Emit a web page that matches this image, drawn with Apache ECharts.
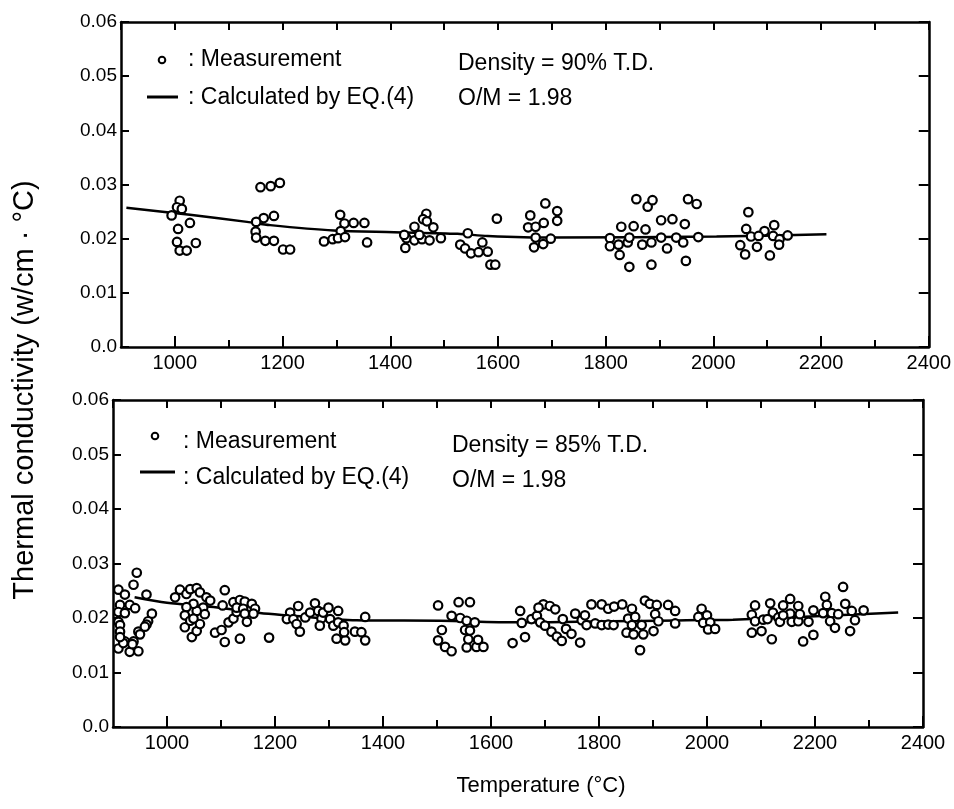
<!DOCTYPE html>
<html>
<head>
<meta charset="utf-8">
<script src="https://cdn.jsdelivr.net/npm/echarts@6/dist/echarts.min.js"></script>
<style>
html,body{margin:0;padding:0;background:#fff;}
#c{width:954px;height:809px;}
</style>
</head>
<body>
<div id="c"></div>
<script>
// ---- tick labels ----
const xTickLabels = [1000, 1200, 1400, 1600, 1800, 2000, 2200, 2400];
const xMinorTicks = [1100, 1300, 1500, 1700, 1900, 2100, 2300];
const yTickLabels = ['0.0', '0.01', '0.02', '0.03', '0.04', '0.05', '0.06'];

// ---- top panel: density 90% T.D. ----
const topMeasured = [
  [1009,0.0270],[1004,0.0258],[994,0.0243],[1013,0.0255],[1028,0.0229],[1006,0.0218],[1004,0.0194],[1009,0.0178],[1022,0.0178],[1039,0.0192],
  [1159,0.0295],[1178,0.0297],[1195,0.0303],[1165,0.0238],[1184,0.0242],[1151,0.0231],[1150,0.0213],[1151,0.0202],[1168,0.0196],[1184,0.0196],[1201,0.0180],[1214,0.0180],
  [1307,0.0244],[1315,0.0228],[1332,0.0229],[1352,0.0229],[1308,0.0214],[1277,0.0195],[1293,0.0199],[1303,0.0201],[1316,0.0203],[1357,0.0193],
  [1467,0.0246],[1461,0.0236],[1445,0.0222],[1480,0.0221],[1430,0.0201],[1445,0.0197],[1459,0.0199],[1473,0.0197],[1494,0.0201],[1428,0.0183],[1426,0.0207],[1454,0.0207],[1468,0.0232],
  [1544,0.0210],[1530,0.0189],[1539,0.0182],[1550,0.0173],[1571,0.0193],[1581,0.0176],[1598,0.0237],[1586,0.0152],[1595,0.0152],[1564,0.0175],
  [1660,0.0243],[1688,0.0265],[1710,0.0251],[1710,0.0233],[1656,0.0221],[1670,0.0222],[1685,0.0229],[1670,0.0202],[1698,0.0200],[1667,0.0184],[1684,0.0190],
  [1808,0.0201],[1808,0.0186],[1829,0.0222],[1824,0.0189],[1826,0.0170],[1844,0.0148],[1841,0.0193],[1852,0.0223],[1844,0.0202],[1857,0.0273],[1874,0.0217],[1868,0.0189],[1878,0.0259],[1887,0.0271],[1885,0.0152],[1885,0.0193],[1903,0.0234],[1903,0.0202],[1914,0.0182],[1924,0.0236],[1931,0.0202],[1944,0.0193],[1947,0.0227],[1949,0.0159],[1953,0.0273],[1969,0.0264],[1972,0.0203],
  [2065,0.0249],[2061,0.0218],[2070,0.0204],[2050,0.0188],[2059,0.0171],[2081,0.0185],[2095,0.0214],[2105,0.0169],[2113,0.0225],[2111,0.0205],[2123,0.0199],[2122,0.0189],[2138,0.0206],[2084,0.0205]
];
const topCalculated = [
  [910,0.0257],[1028,0.0244],[1134,0.0231],[1177,0.0225],[1295,0.0215],[1407,0.0212],[1525,0.0209],[1581,0.0205],[1700,0.0202],[2006,0.0204],[2210,0.0208]
];

// ---- bottom panel: density 85% T.D. ----
const bottomMeasured = [
  [910,0.0252],[922,0.0243],[913,0.0224],[931,0.0224],[941,0.0218],[910,0.0211],[922,0.0209],[910,0.0193],[913,0.0187],[913,0.0175],[922,0.0157],[938,0.0157],[944,0.0283],[938,0.0261],[962,0.0243],[972,0.0208],[965,0.0194],[962,0.0188],[947,0.0175],[959,0.0184],[950,0.0170],[910,0.0144],[919,0.0154],[931,0.0138],[947,0.0139],[936,0.0152],[913,0.0165],
  [1015,0.0238],[1024,0.0252],[1036,0.0244],[1043,0.0253],[1055,0.0255],[1061,0.0247],[1073,0.0238],[1080,0.0232],[1067,0.0219],[1070,0.0207],[1055,0.0213],[1049,0.0226],[1036,0.0220],[1033,0.0205],[1033,0.0183],[1046,0.0165],[1055,0.0176],[1061,0.0189],[1043,0.0195],[1049,0.0199],
  [1107,0.0251],[1103,0.0223],[1089,0.0173],[1101,0.0178],[1107,0.0156],[1114,0.0192],[1123,0.0199],[1129,0.0211],[1123,0.0229],[1135,0.0233],[1144,0.0230],[1129,0.0219],[1141,0.0217],[1157,0.0226],[1163,0.0217],[1160,0.0208],[1144,0.0208],[1135,0.0162],[1148,0.0193],[1189,0.0164],
  [1243,0.0222],[1228,0.0210],[1222,0.0198],[1234,0.0198],[1240,0.0189],[1246,0.0175],[1256,0.0201],[1265,0.0210],[1274,0.0227],[1280,0.0213],[1286,0.0199],[1283,0.0186],[1289,0.0210],[1299,0.0219],[1302,0.0198],[1308,0.0186],[1317,0.0213],[1317,0.0192],[1327,0.0186],[1314,0.0162],[1330,0.0159],[1328,0.0174],[1348,0.0175],[1360,0.0174],[1367,0.0202],[1367,0.0159],
  [1502,0.0223],[1509,0.0178],[1502,0.0159],[1515,0.0147],[1527,0.0139],[1540,0.0229],[1561,0.0229],[1527,0.0204],[1543,0.0200],[1555,0.0195],[1570,0.0192],[1552,0.0178],[1561,0.0177],[1555,0.0146],[1573,0.0147],[1586,0.0147],[1576,0.0160],[1558,0.0161],
  [1640,0.0154],[1654,0.0213],[1657,0.0191],[1663,0.0165],[1675,0.0198],[1685,0.0204],[1697,0.0225],[1688,0.0219],[1709,0.0222],[1719,0.0216],[1691,0.0192],[1700,0.0186],[1712,0.0175],[1722,0.0166],[1731,0.0158],[1733,0.0198],[1739,0.0180],[1749,0.0171],[1765,0.0155],[1756,0.0208],[1768,0.0196],[1777,0.0187],
  [1774,0.0205],[1786,0.0225],[1805,0.0225],[1817,0.0217],[1828,0.0221],[1843,0.0225],[1793,0.0190],[1805,0.0187],[1817,0.0188],[1827,0.0187],[1861,0.0217],[1854,0.0199],[1867,0.0202],[1861,0.0187],[1879,0.0187],[1876,0.0141],[1885,0.0232],[1894,0.0226],[1907,0.0224],[1904,0.0207],[1910,0.0194],[1901,0.0176],[1882,0.0170],[1851,0.0173],[1864,0.0170],[1928,0.0224],[1941,0.0213],[1941,0.0190],
  [1990,0.0217],[1984,0.0202],[2000,0.0205],[1993,0.0191],[2006,0.0192],[2002,0.0179],[2015,0.0180],
  [2089,0.0223],[2083,0.0206],[2089,0.0194],[2104,0.0197],[2117,0.0227],[2122,0.0210],[2112,0.0198],[2132,0.0201],[2141,0.0223],[2154,0.0235],[2169,0.0222],[2154,0.0208],[2157,0.0193],[2169,0.0194],[2135,0.0193],[2083,0.0173],[2101,0.0176],[2120,0.0161],[2178,0.0157],[2197,0.0169],[2188,0.0193],[2197,0.0214],[2219,0.0239],[2222,0.0224],[2215,0.0209],[2231,0.0209],[2228,0.0194],[2237,0.0182],[2252,0.0257],[2256,0.0226],[2268,0.0213],[2274,0.0196],[2265,0.0176],[2290,0.0214],[2243,0.0207],[2172,0.0207],[2141,0.0205]
];
const bottomCalculated = [
  [940,0.0238],[1000,0.0228],[1086,0.0220],[1172,0.0209],[1222,0.0205],[1351,0.0196],[1506,0.0195],[1648,0.0192],[1962,0.0196],[2048,0.0197],[2354,0.0210]
];

const panelNotes = [
  {density: 'Density = 90% T.D.', om: 'O/M = 1.98'},
  {density: 'Density = 85% T.D.', om: 'O/M = 1.98'}
];

const FONT = '"Liberation Sans", Arial, sans-serif';
const BLACK = '#000';

const grids = [
  {left: 121, top: 22, width: 808, height: 325},
  {left: 113, top: 400, width: 810, height: 327}
];

function xAxesFor(gi) {
  const base = {gridIndex: gi, type: 'value', min: 900, max: 2400, interval: 100, splitLine: {show: false}};
  return [
    Object.assign({}, base, {
      position: 'bottom',
      axisLine: {show: true, onZero: false, lineStyle: {color: BLACK, width: 2.5}},
      axisTick: {show: true, inside: true, length: 11, customValues: xTickLabels, lineStyle: {color: BLACK, width: 2}},
      axisLabel: {show: true, showMinLabel: false, showMaxLabel: true, margin: 6, color: BLACK, fontSize: 20, fontFamily: FONT,
        formatter: v => xTickLabels.indexOf(v) >= 0 ? String(v) : ''}
    }),
    Object.assign({}, base, {
      position: 'bottom',
      axisLine: {show: false},
      axisTick: {show: true, inside: true, length: 7, customValues: xMinorTicks, lineStyle: {color: BLACK, width: 2}},
      axisLabel: {show: false}
    }),
    Object.assign({}, base, {
      position: 'top',
      axisLine: {show: true, onZero: false, lineStyle: {color: BLACK, width: 2.5}},
      axisTick: {show: true, inside: true, length: 8, lineStyle: {color: BLACK, width: 2}},
      axisLabel: {show: false}
    })
  ];
}
function yAxesFor(gi) {
  const base = {gridIndex: gi, type: 'value', min: 0, max: 0.06, interval: 0.01, splitLine: {show: false}};
  return [
    Object.assign({}, base, {
      position: 'left',
      axisLine: {show: true, onZero: false, lineStyle: {color: BLACK, width: 2.5}},
      axisTick: {show: true, inside: true, length: 8, lineStyle: {color: BLACK, width: 2}},
      axisLabel: {show: true, margin: 4, color: BLACK, fontSize: 19, fontFamily: FONT,
        formatter: v => yTickLabels[Math.round(v * 100)]}
    }),
    Object.assign({}, base, {
      position: 'right',
      axisLine: {show: true, onZero: false, lineStyle: {color: BLACK, width: 2.5}},
      axisTick: {show: true, inside: true, length: 10, lineStyle: {color: BLACK, width: 2}},
      axisLabel: {show: false}
    })
  ];
}

function scatterSeries(data, xi, yi) {
  return {type: 'scatter', xAxisIndex: xi, yAxisIndex: yi, data: data, symbol: 'circle', symbolSize: 8.5, z: 5,
    itemStyle: {color: '#fff', borderColor: BLACK, borderWidth: 2.2, opacity: 1}, silent: true};
}
function lineSeries(data, xi, yi) {
  return {type: 'line', xAxisIndex: xi, yAxisIndex: yi, data: data, showSymbol: false, smooth: 0.3, z: 3,
    lineStyle: {color: BLACK, width: 2.5}, silent: true};
}

function txt(x, y, text, size, extra) {
  return Object.assign({type: 'text', x: x, y: y, silent: true,
    style: {text: text, fontSize: size, fontFamily: FONT, fill: BLACK,
      align: 'left', textAlign: 'left', verticalAlign: 'middle', textVerticalAlign: 'middle'}}, extra || {});
}

const legendPos = [
  {cx: 162, cy: 60, tx: 188, ty1: 60, lx1: 147, lx2: 178, ly: 97, ty2: 98, nx: 458, ny1: 64, ny2: 99},
  {cx: 155, cy: 436, tx: 183, ty1: 442, lx1: 140, lx2: 175, ly: 472, ty2: 478, nx: 452, ny1: 446, ny2: 481}
];

const graphic = [];
legendPos.forEach((p, i) => {
  graphic.push({type: 'circle', shape: {cx: p.cx, cy: p.cy, r: 3.3}, style: {fill: '#fff', stroke: BLACK, lineWidth: 2}, silent: true});
  graphic.push(txt(p.tx, p.ty1, ': Measurement', 23));
  graphic.push({type: 'line', shape: {x1: p.lx1, y1: p.ly, x2: p.lx2, y2: p.ly}, style: {stroke: BLACK, lineWidth: 3}, silent: true});
  graphic.push(txt(p.tx, p.ty2, ': Calculated by EQ.(4)', 23));
  graphic.push(txt(p.nx, p.ny1, panelNotes[i].density, 23));
  graphic.push(txt(p.nx, p.ny2, panelNotes[i].om, 23));
});
graphic.push({type: 'text', x: 541, y: 786, silent: true,
  style: {text: 'Temperature (°C)', fontSize: 22, fontFamily: FONT, fill: BLACK,
    align: 'center', textAlign: 'center', verticalAlign: 'middle', textVerticalAlign: 'middle'}});
graphic.push({type: 'text', x: 25, y: 390, rotation: Math.PI / 2, silent: true,
  style: {text: 'Thermal conductivity (w/cm · °C)', fontSize: 29, fontFamily: FONT, fill: BLACK,
    align: 'center', textAlign: 'center', verticalAlign: 'middle', textVerticalAlign: 'middle'}});

const option = {
  animation: false,
  backgroundColor: '#fff',
  grid: grids,
  xAxis: xAxesFor(0).concat(xAxesFor(1)),
  yAxis: yAxesFor(0).concat(yAxesFor(1)),
  series: [
    lineSeries(topCalculated, 0, 0),
    scatterSeries(topMeasured, 0, 0),
    lineSeries(bottomCalculated, 3, 2),
    scatterSeries(bottomMeasured, 3, 2)
  ],
  graphic: graphic
};

const chart = echarts.init(document.getElementById('c'), null, {renderer: 'canvas'});
chart.setOption(option);
</script>
</body>
</html>
